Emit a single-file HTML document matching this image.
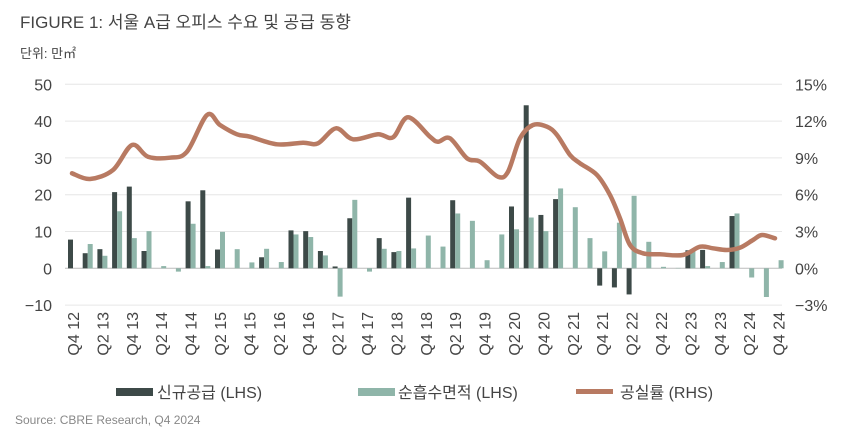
<!DOCTYPE html>
<html><head><meta charset="utf-8"><style>
html,body{margin:0;padding:0;background:#fff;width:850px;height:441px;overflow:hidden}
svg{display:block;font-family:"Liberation Sans","Noto Sans CJK KR",sans-serif}
</style></head><body>
<svg id="s" width="850" height="441" viewBox="0 0 850 441" xmlns="http://www.w3.org/2000/svg">
<text x="20" y="28" font-size="17" fill="#444">FIGURE 1: 서울 A급 오피스 수요 및 공급 동향</text>
<text x="20" y="58" font-size="13" fill="#444">단위: 만㎡</text>
<g id="grid"></g>
<g id="bars"></g>
<g id="xl"></g>
<rect x="116" y="388" width="37" height="8" fill="#3d4a48"/>
<text x="157" y="398" font-size="16" fill="#444">신규공급 (LHS)</text>
<rect x="358" y="388" width="37" height="8" fill="#8fb5a9"/>
<text x="398" y="398" font-size="16" fill="#444">순흡수면적 (LHS)</text>
<rect x="576" y="389" width="37" height="5" fill="#b87a62"/>
<text x="620" y="398" font-size="16" fill="#444">공실률 (RHS)</text>
<text x="15" y="424" font-size="12" fill="#888">Source: CBRE Research, Q4 2024</text>
</svg>
<script>
var NS="http://www.w3.org/2000/svg";
function el(p,t,a,tx){var e=document.createElementNS(NS,t);for(var k in a)e.setAttribute(k,a[k]);if(tx!=null)e.textContent=tx;document.getElementById(p).appendChild(e);return e;}
var z=268.3,u=3.68,pr=12.26;
var L=[50,40,30,20,10,0,-10],R=["15%","12%","9%","6%","3%","0%","-3%"];
for(var i=0;i<7;i++){var y=z-L[i]*u;
 el("grid","line",{x1:65,x2:782,y1:y,y2:y,stroke:i==5?"#bbb":"#e6e6e6","stroke-width":1});
 el("grid","text",{x:52,y:y+6,"font-size":16,fill:"#444","text-anchor":"end"},String(L[i]).replace("-","−"));
 el("grid","text",{x:795,y:y+6,"font-size":16,fill:"#444"},R[i].replace("-","−"));}
var D=[7.8,4.1,5.2,20.7,22.2,4.7,0,0,18.2,21.2,5.1,0,0,3.0,0,10.3,10.1,4.7,0.5,13.6,0,8.2,4.4,19.2,0,0,18.5,0,0,0,16.8,44.3,14.5,18.8,0,0,-4.7,-5.2,-7.1,0,0,0,4.9,5.0,0,14.2,0,0,0];
var Lg=[0,6.6,3.4,15.5,8.2,10.1,0.6,-0.9,12.1,0.6,9.9,5.2,1.6,5.3,1.7,9.2,8.5,3.5,-7.7,18.6,-0.9,5.3,4.7,5.4,8.9,5.9,14.9,12.9,2.2,9.2,10.6,13.8,10.1,21.7,16.6,8.2,4.6,12.4,19.7,7.2,0.4,0.1,5.0,0.6,1.7,14.9,-2.5,-7.8,2.2];
for(var i=0;i<49;i++){var x=68+14.7*i;
 [[D[i],"#3d4a48",x],[Lg[i],"#8fb5a9",x+5]].forEach(function(b){if(b[0]==0)return;var h=Math.abs(b[0])*u;
  el("bars","rect",{x:b[2],y:b[0]>0?z-h:z,width:5,height:h,fill:b[1]});});
 if(i%2==0){var q=(i%4==0?"Q4 ":"Q2 ")+String(12+Math.ceil(i/4)).slice(-2);
  var cx=73+14.7*i;el("xl","text",{x:0,y:0,"font-size":16,fill:"#444","text-anchor":"end",transform:"translate("+(cx+6)+",312) rotate(-90)"},q);}}
var P=[[72,173.3],[90,179],[113,170],[132,145],[148,156.7],[170,157.7],[187,151.7],[207,115],[220,125],[237,134.3],[250,136.7],[277,144.3],[303,142.7],[318,143.3],[336,128.3],[353,139.3],[378,134.3],[393,137.3],[408,117.3],[430,136.7],[438,141.7],[450,138.3],[467,158.3],[480,161.7],[498,176.7],[508,171.7],[520,138.3],[533,125],[547,126.7],[557,135],[570,155],[580,163.3],[597,175],[610,195],[620,218.3],[630,245],[643,253.3],[660,254.3],[683,255],[700,246.7],[713,248.3],[727,250],[740,247.7],[753,240],[762,235],[775,238.3]];
var d="M"+P[0][0]+","+P[0][1];
for(var i=0;i<P.length-1;i++){var p0=P[i-1]||P[i],p1=P[i],p2=P[i+1],p3=P[i+2]||p2;
 d+=" C"+(p1[0]+(p2[0]-p0[0])/6)+","+(p1[1]+(p2[1]-p0[1])/6)+" "+(p2[0]-(p3[0]-p1[0])/6)+","+(p2[1]-(p3[1]-p1[1])/6)+" "+p2[0]+","+p2[1];}
el("bars","path",{d:d,fill:"none",stroke:"#b87a62","stroke-width":4.5,"stroke-linecap":"round","stroke-linejoin":"round"});
</script>
</body></html>
